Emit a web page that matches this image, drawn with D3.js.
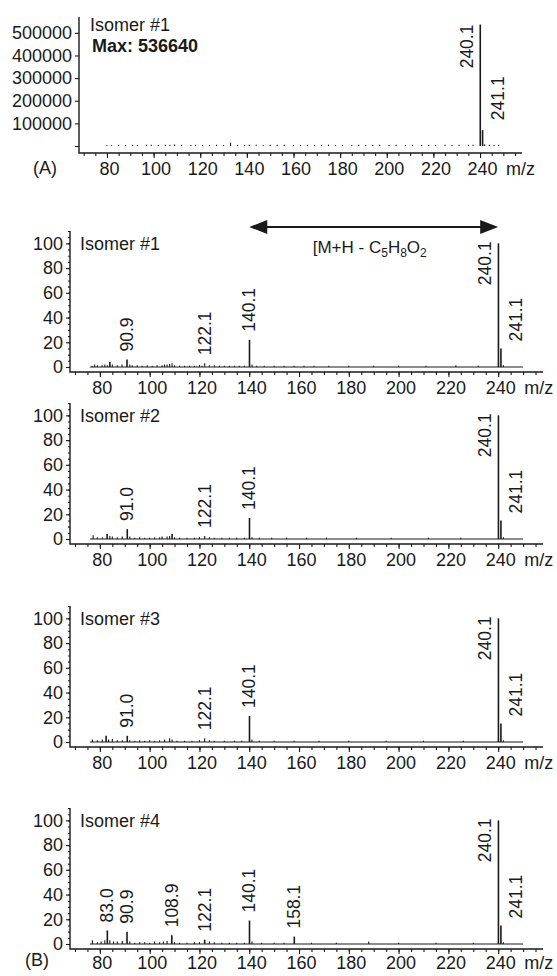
<!DOCTYPE html>
<html>
<head>
<meta charset="utf-8">
<script src="https://cdn.jsdelivr.net/npm/d3@7"></script>
<style>
  body { margin: 0; background: #fff; }
  text { font-family: "Liberation Sans", Arial, sans-serif; fill: #1a1a1a; }
</style>
</head>
<body>
<div id="chart"></div>
<script>
// ---- data ----
var mzDomain = [68, 258]
var scanRange = [76, 250]
var xTicks = [80, 100, 120, 140, 160, 180, 200, 220, 240]
var absTicks = [100000, 200000, 300000, 400000, 500000]
var relTicks = [0, 20, 40, 60, 80, 100]
var isomerNames = ['Isomer #1', 'Isomer #2', 'Isomer #3', 'Isomer #4']

// full scan, isomer #1 (abundance counts)
var fullScanPeaks = [
  [80, 4000], [82, 3000], [85, 5000], [88, 4000], [91, 6000], [93, 4000], [97, 5000],
  [99, 5000], [102, 4000], [105, 6000], [107, 5000], [109, 7000], [112, 5000], [116, 4000],
  [118, 5000], [121, 4000], [124, 4000], [127, 5000], [130, 4000], [133, 14000], [136, 5000],
  [139, 5000], [141, 6000], [144, 5000], [147, 4000], [150, 5000], [153, 6000], [156, 5000],
  [160, 4000], [163, 5000], [166, 5000], [169, 4000], [172, 5000], [175, 6000], [178, 4000],
  [181, 5000], [185, 4000], [188, 5000], [191, 4000], [194, 5000], [197, 6000], [201, 4000],
  [204, 5000], [208, 4000], [211, 5000], [215, 4000], [218, 5000], [221, 4000], [225, 5000],
  [228, 4000], [231, 5000], [235, 6000], [237, 5000], [240.1, 536640], [241.1, 70000],
  [242, 8000], [244, 5000], [246, 4000], [248, 5000]
]
var fullScanLabels = ['240.1', '241.1']
var fullScanMax = 'Max: 536640'

// product ion spectra (relative abundance, %)
var iso1Peaks = [
  [76.9, 1], [77.9, 2], [79.0, 1.5], [80.9, 1.5], [82.0, 2], [83.0, 1.5], [84.0, 4], [85.0, 2],
  [87.0, 1.5], [88.9, 2], [90.9, 6], [92.0, 2], [93.0, 1.5], [95.0, 1.5], [97.0, 1], [99.0, 1.5],
  [101.0, 1], [103.0, 1.5], [105.0, 1.5], [106.0, 2], [107.0, 2], [108.0, 2.5], [109.0, 3],
  [110.0, 1.5], [112.0, 1], [114.0, 1], [116.0, 1], [118.0, 1], [120.0, 1.5], [121.0, 1],
  [122.1, 3], [124.0, 1.5], [126.0, 1.5], [128.0, 1], [130.0, 1], [132.0, 1], [134.0, 1],
  [136.0, 1], [138.0, 1], [140.1, 22], [141.1, 2], [143.0, 1], [146.0, 1], [150.0, 1],
  [154.0, 1], [158.0, 1], [162.0, 1], [166.0, 1], [172.0, 1], [180.0, 1], [190.0, 1],
  [200.0, 1], [211.0, 1], [223.0, 1.5], [232.0, 1], [240.1, 100], [241.1, 15], [242.1, 1.5]
]
var iso1Labels = ['90.9', '122.1', '140.1', '240.1', '241.1']

var iso2Peaks = [
  [77.3, 3], [79.0, 1.5], [81.0, 1.5], [82.9, 4], [84.0, 2.5], [85.0, 2], [87.0, 1.5],
  [89.0, 2], [91.0, 8], [92.0, 2], [94.0, 1], [96.0, 1.5], [98.0, 1], [100.0, 1], [102.0, 1.5],
  [104.0, 1.5], [105.0, 2], [107.0, 2], [108.0, 2.5], [109.0, 4], [110.0, 1.5], [112.0, 1],
  [115.0, 1], [118.0, 1], [120.0, 1.5], [122.1, 2.5], [124.0, 1.5], [126.0, 1], [129.0, 1],
  [132.0, 1], [135.0, 1], [138.0, 1], [140.1, 17], [141.1, 1.5], [144.0, 1], [149.0, 1],
  [155.0, 1], [163.0, 1], [171.0, 1], [183.0, 1], [197.0, 1], [212.0, 1], [225.0, 1],
  [240.1, 100], [241.1, 15], [242.1, 1.5]
]
var iso2Labels = ['91.0', '122.1', '140.1', '240.1', '241.1']

var iso3Peaks = [
  [77.0, 2], [79.0, 1.5], [81.0, 2], [82.5, 5], [83.5, 2], [85.0, 2.5], [87.0, 1.5],
  [89.0, 1.5], [91.0, 5], [92.0, 1.5], [94.0, 1], [96.0, 1.5], [98.0, 1], [100.0, 1.5],
  [102.0, 1], [104.0, 1.5], [106.0, 2], [108.0, 3], [109.0, 2], [111.0, 1], [114.0, 1],
  [117.0, 1], [120.0, 1.5], [122.1, 3], [124.0, 1.5], [126.0, 1], [130.0, 1], [134.0, 1],
  [137.0, 1], [140.1, 21], [141.1, 2], [144.0, 1], [150.0, 1], [158.0, 1], [168.0, 1],
  [180.0, 1], [195.0, 1], [210.0, 1], [226.0, 1], [240.1, 100], [241.1, 15], [242.1, 1.5]
]
var iso3Labels = ['91.0', '122.1', '140.1', '240.1', '241.1']

var iso4Peaks = [
  [77.0, 3], [79.0, 1.5], [80.5, 2], [82.0, 3], [83.0, 11], [84.0, 3], [85.5, 2], [87.0, 2],
  [89.0, 2.5], [90.9, 10], [92.0, 2], [94.0, 1], [96.0, 1.5], [98.0, 1.5], [100.0, 1],
  [102.0, 2], [104.0, 1.5], [105.5, 2], [107.0, 2.5], [108.9, 7], [110.0, 1.5], [112.0, 1],
  [115.0, 1], [118.0, 1.5], [120.0, 1.5], [122.1, 3.5], [124.0, 2], [126.0, 1.5], [129.0, 1],
  [132.0, 1], [135.0, 1], [138.0, 1], [140.1, 19], [141.1, 2], [145.0, 1], [150.0, 1],
  [154.0, 1], [158.1, 6], [165.0, 1], [175.0, 1], [188.0, 2], [200.0, 1], [215.0, 1],
  [230.0, 1], [240.1, 100], [241.1, 15], [242.1, 1.5]
]
var iso4Labels = ['83.0', '90.9', '108.9', '122.1', '140.1', '158.1', '240.1', '241.1']

var isomerPeaks = [iso1Peaks, iso2Peaks, iso3Peaks, iso4Peaks]
var isomerLabels = [iso1Labels, iso2Labels, iso3Labels, iso4Labels]

// ---- layout ----
var width = 557
var height = 976
var INK = '#1a1a1a'
var FONT = 18
var LABEL_FONT = 17.5

var svg = d3
  .select('#chart')
  .append('svg')
  .attr('width', width)
  .attr('height', height)

var xMinorTicks = d3.range(70, 256, 5)

// draws the L shaped frame, the ticks and tick labels
function drawAxes(x, y, yTicks, yMinor, yFormat, xAxisY, pad) {
  var g = svg.append('g')
  var left = x.range()[0]
  var right = x.range()[1]
  var top = y.range()[1]

  g.append('path')
    .attr('d', 'M' + left + ',' + top + 'V' + xAxisY + 'H' + right)
    .attr('fill', 'none')
    .attr('stroke', INK)
    .attr('stroke-width', 1.4)

  var xa = g
    .append('g')
    .attr('transform', 'translate(0,' + xAxisY + ')')
    .call(d3.axisBottom(x).tickValues(xTicks).tickSize(5).tickPadding(pad).tickSizeOuter(0))
  xa.select('.domain').remove()
  xa.selectAll('text').attr('dx', 2)

  var xm = g
    .append('g')
    .attr('transform', 'translate(0,' + xAxisY + ')')
    .call(d3.axisBottom(x).tickValues(xMinorTicks).tickSize(3).tickFormat(''))
  xm.select('.domain').remove()

  var ya = g
    .append('g')
    .attr('transform', 'translate(' + left + ',0)')
    .call(d3.axisLeft(y).tickValues(yTicks).tickSize(4).tickPadding(3).tickFormat(yFormat))
  ya.select('.domain').remove()

  if (yMinor) {
    var ym = g
      .append('g')
      .attr('transform', 'translate(' + left + ',0)')
      .call(d3.axisLeft(y).tickValues(yMinor).tickSize(2).tickFormat(''))
    ym.select('.domain').remove()
  }

  g.selectAll('.tick line').attr('stroke', INK).attr('stroke-width', 1.1)
  g.selectAll('text')
    .attr('font-size', FONT)
    .attr('font-family', '"Liberation Sans", Arial, sans-serif')
    .attr('fill', INK)

  // m/z unit next to the last tick label
  g.append('text')
    .attr('x', x(240) + 26)
    .attr('y', xAxisY + 5 + pad)
    .attr('dy', '0.71em')
    .attr('font-size', FONT)
    .text('m/z')
  return g
}

// stick spectrum plus rotated peak labels
function drawSpectrum(x, y, peaks, labels, baseline, gaps) {
  var g = svg.append('g')
  var maxI = d3.max(peaks, d => d[1])
  var tallest = peaks.find(d => d[1] === maxI)[0]

  if (baseline) {
    g.append('line')
      .attr('x1', x(scanRange[0]))
      .attr('x2', x(scanRange[1]))
      .attr('y1', y(0))
      .attr('y2', y(0))
      .attr('stroke', INK)
      .attr('stroke-width', 1.1)
  }

  g.selectAll('line.peak')
    .data(peaks)
    .enter()
    .append('line')
    .attr('class', 'peak')
    .attr('x1', d => x(d[0]))
    .attr('x2', d => x(d[0]))
    .attr('y1', y(0))
    .attr('y2', d => y(d[1]))
    .attr('stroke', INK)
    .attr('stroke-width', d => (d[1] > maxI * 0.03 ? 1.6 : 1.1))

  labels.forEach(lab => {
    var mz = +lab
    var v = peaks.find(d => Math.abs(d[0] - mz) < 0.05)[1]
    var xb, yb, anchor
    if (v === maxI) {
      xb = x(mz) - 7
      yb = y(v) - gaps.top
      anchor = 'end'
    } else if (Math.abs(mz - tallest) < 1.5) {
      xb = x(mz) + 21
      yb = y(v) - gaps.side
      anchor = 'start'
    } else {
      xb = x(mz) + 6
      yb = y(v) - gaps.above
      anchor = 'start'
    }
    g.append('text')
      .attr('transform', 'translate(' + xb + ',' + yb + ') rotate(-90)')
      .attr('text-anchor', anchor)
      .attr('font-size', LABEL_FONT)
      .text(lab)
  })
  return g
}

// ---- panel A: full scan ----
var xA = d3.scaleLinear().domain(mzDomain).range([79, 522])
var yA = d3.scaleLinear().domain([0, 570000]).range([146, 17])

drawAxes(xA, yA, [0].concat(absTicks), null, d => (d === 0 ? '' : d), 153, 4)
drawSpectrum(xA, yA, fullScanPeaks, fullScanLabels, false, { top: 0, side: 10, above: 8 })

svg.append('text')
  .attr('x', 90)
  .attr('y', 31)
  .attr('font-size', FONT)
  .text(isomerNames[0])
svg.append('text')
  .attr('x', 92)
  .attr('y', 52)
  .attr('font-size', FONT)
  .attr('font-weight', 'bold')
  .text(fullScanMax)
svg.append('text')
  .attr('x', 33)
  .attr('y', 174)
  .attr('font-size', FONT)
  .text('(A)')

// ---- panel B: product ion spectra ----
var xB = d3.scaleLinear().domain(mzDomain).range([70, 543])
var zeroYs = [367, 539, 742, 944]
var relMinor = d3.range(0, 111, 5)

zeroYs.forEach((y0, i) => {
  var y = d3.scaleLinear().domain([0, 110]).range([y0, y0 - 136])
  drawAxes(xB, y, relTicks, relMinor, d => d, y0 + 5, i === 3 ? 2 : 4)
  drawSpectrum(xB, y, isomerPeaks[i], isomerLabels[i], true, { top: 2, side: 7, above: 8 })
  svg.append('text')
    .attr('x', 80)
    .attr('y', y(100))
    .attr('dy', '0.35em')
    .attr('font-size', FONT)
    .text(isomerNames[i])
})

svg.append('text')
  .attr('x', 25)
  .attr('y', 966)
  .attr('font-size', FONT)
  .text('(B)')

// neutral loss arrow between m/z 140 and 240
var arrowY = zeroYs[0] - 140
var arrow = svg.append('g')
arrow.append('line')
  .attr('x1', xB(140) + 10)
  .attr('x2', xB(240) - 10)
  .attr('y1', arrowY)
  .attr('y2', arrowY)
  .attr('stroke', INK)
  .attr('stroke-width', 2)
arrow.append('path')
  .attr('d', 'M' + xB(140) + ',' + arrowY + 'l18,-7v14z')
  .attr('fill', INK)
arrow.append('path')
  .attr('d', 'M' + xB(240) + ',' + arrowY + 'l-18,-7v14z')
  .attr('fill', INK)

var lossText = svg.append('text')
  .attr('x', xB(165.5))
  .attr('y', arrowY + 26)
  .attr('font-size', 17)
lossText.append('tspan').text('[M+H - C')
lossText.append('tspan').attr('font-size', 12).attr('dy', 4).text('5')
lossText.append('tspan').attr('dy', -4).text('H')
lossText.append('tspan').attr('font-size', 12).attr('dy', 4).text('8')
lossText.append('tspan').attr('dy', -4).text('O')
lossText.append('tspan').attr('font-size', 12).attr('dy', 4).text('2')
</script>
</body>
</html>
